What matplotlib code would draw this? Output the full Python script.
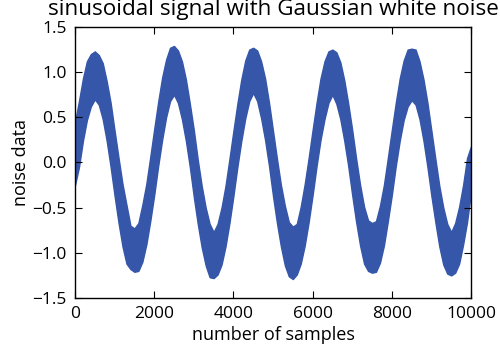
import numpy as np
import matplotlib
matplotlib.use("Agg")
import matplotlib.pyplot as plt

# sample index, read every 100 samples
samples = np.arange(0, 10001, 100)

# upper edge of the noisy band
upper = [
    0.45, 0.68, 0.93, 1.12, 1.20, 1.23, 1.19, 1.10, 0.90, 0.66,
    0.35, 0.05, -0.24, -0.47, -0.70, -0.73, -0.67, -0.47, -0.24, 0.06,
    0.37, 0.67, 0.94, 1.14, 1.27, 1.29, 1.24, 1.12, 0.92, 0.65,
    0.36, 0.03, -0.26, -0.50, -0.68, -0.77, -0.68, -0.50, -0.26, 0.04,
    0.35, 0.65, 0.92, 1.13, 1.25, 1.27, 1.24, 1.12, 0.93, 0.66,
    0.35, 0.04, -0.25, -0.48, -0.66, -0.71, -0.68, -0.49, -0.24, 0.05,
    0.36, 0.66, 0.93, 1.12, 1.23, 1.25, 1.22, 1.11, 0.91, 0.65,
    0.36, 0.04, -0.25, -0.49, -0.64, -0.67, -0.65, -0.48, -0.25, 0.05,
    0.36, 0.66, 0.93, 1.13, 1.25, 1.26, 1.25, 1.12, 0.92, 0.66,
    0.35, 0.04, -0.26, -0.50, -0.68, -0.77, -0.67, -0.49, -0.25, 0.05,
    0.18,
]

# lower edge of the noisy band
lower = [
    -0.25, -0.05, 0.24, 0.47, 0.62, 0.70, 0.64, 0.48, 0.24, -0.05,
    -0.37, -0.67, -0.93, -1.12, -1.18, -1.21, -1.20, -1.10, -0.91, -0.65,
    -0.36, -0.04, 0.25, 0.50, 0.68, 0.75, 0.66, 0.48, 0.24, -0.05,
    -0.38, -0.68, -0.94, -1.14, -1.27, -1.28, -1.24, -1.13, -0.93, -0.67,
    -0.37, -0.05, 0.24, 0.49, 0.68, 0.77, 0.68, 0.49, 0.25, -0.04,
    -0.37, -0.67, -0.93, -1.14, -1.26, -1.29, -1.24, -1.12, -0.92, -0.66,
    -0.36, -0.04, 0.25, 0.48, 0.66, 0.75, 0.65, 0.48, 0.24, -0.04,
    -0.36, -0.66, -0.92, -1.12, -1.20, -1.22, -1.21, -1.11, -0.92, -0.65,
    -0.36, -0.04, 0.24, 0.47, 0.62, 0.69, 0.64, 0.48, 0.24, -0.05,
    -0.37, -0.66, -0.93, -1.13, -1.23, -1.25, -1.22, -1.12, -0.91, -0.66,
    -0.33,
]

xticks = [0, 2000, 4000, 6000, 8000, 10000]
yticks = [-1.5, -1.0, -0.5, 0.0, 0.5, 1.0, 1.5]

plt.rcParams['font.family'] = ['Open Sans', 'DejaVu Sans']
plt.rcParams['font.size'] = 12.5

fig = plt.figure(figsize=(5, 3.58), dpi=100)
ax = fig.add_axes([0.15, 0.1676, 0.792, 0.757])

col = '#3556a9'
ax.fill_between(samples, lower, upper, color=col, linewidth=1.0, edgecolor=col)

ax.set_xlim(0, 10000)
ax.set_ylim(-1.5, 1.5)
ax.set_xticks(xticks)
ax.set_xticklabels([str(t) for t in xticks])
ax.set_yticks(yticks)
ax.set_yticklabels(["%.1f" % t if t >= 0 else "\u2212%.1f" % -t for t in yticks])
ax.tick_params(direction='in', length=5, width=0.8, top=True, right=True, pad=6)
for s in ax.spines.values():
    s.set_linewidth(1.0)

ax.set_title("sinusoidal signal with Gaussian white noise", fontsize=16.2, pad=8.5)
ax.set_xlabel("number of samples", fontsize=13, labelpad=3)
ax.set_ylabel("noise data", fontsize=13, labelpad=2)

fig.savefig("out.png", dpi=100)
